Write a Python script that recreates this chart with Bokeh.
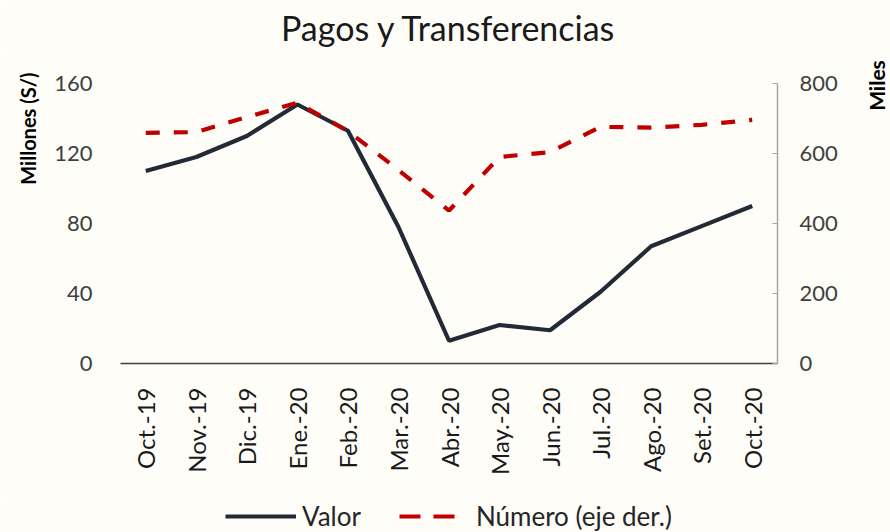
import math
from bokeh.plotting import figure
from bokeh.layouts import column, row
from bokeh.models import (Range1d, LinearAxis, FixedTicker, Legend, LegendItem,
                          FactorRange, Label, Title)
from bokeh.embed import file_html
from bokeh.resources import INLINE

# ---- data ----
months = ["Oct.-19", "Nov.-19", "Dic.-19", "Ene.-20", "Feb.-20", "Mar.-20",
          "Abr.-20", "May.-20", "Jun.-20", "Jul.-20", "Ago.-20", "Set.-20", "Oct.-20"]
valor = [110, 118, 130, 148, 133, 78, 13, 22, 19, 41, 67, 78.5, 90]
numero = [659, 661, 704, 745, 664, 553, 437, 590, 604, 676, 674, 682, 696]
left_ticks = [0, 40, 80, 120, 160]
right_ticks = [0, 200, 400, 600, 800]

BG = "#FEFDF8"
FONT = "Lato"
SOLID = "#222A35"
RED = "#C00000"
W = 862          # width of the main column; a thin strip on the right holds "Miles"
BL, BR = 120, W - 777


def strip(width, height, **kw):
    f = figure(width=width, height=height, output_backend="svg",
               toolbar_location=None, title=None, x_axis_type=None, y_axis_type=None,
               background_fill_color=BG, border_fill_color=BG,
               outline_line_color=None, **kw)
    f.xgrid.grid_line_color = None
    f.ygrid.grid_line_color = None
    return f


# ---- title strip ----
ts = strip(W, 50, x_range=Range1d(0, 1), y_range=Range1d(0, 1),
           min_border_left=BL, min_border_right=BR, min_border_top=0, min_border_bottom=0)
ts.add_layout(Label(x=328.5, y=23, x_units="screen", y_units="screen",
                    text="Pagos y Transferencias", text_align="center",
                    text_baseline="middle", text_font=FONT,
                    text_font_size="34px", text_color="#1a1a1a"))

# ---- main chart ----
p = figure(width=W, height=450, x_range=FactorRange(*months),
           y_range=Range1d(0, 160), output_backend="svg", toolbar_location=None,
           title=None, min_border_left=BL, min_border_right=BR, min_border_top=33,
           min_border_bottom=137, background_fill_color=BG,
           border_fill_color=BG, outline_line_color=None)
p.xgrid.grid_line_color = None
p.ygrid.grid_line_color = None
p.extra_y_ranges = {"right": Range1d(0, 800)}

ya = p.yaxis[0]
ya.ticker = FixedTicker(ticks=left_ticks)
ya.axis_line_color = None
ya.major_tick_line_color = None
ya.minor_tick_line_color = None
ya.major_label_text_font = FONT
ya.major_label_text_font_size = "22px"
ya.major_label_text_color = "#404040"
ya.major_label_standoff = 22

p.add_layout(Title(text="Millones (S/)", align="right", vertical_align="bottom",
                   offset=-11, standoff=24, text_font=FONT, text_font_size="20px",
                   text_font_style="bold", text_color="#000000"), "left")

ra = LinearAxis(y_range_name="right", ticker=FixedTicker(ticks=right_ticks))
ra.axis_line_color = "#A6A6A6"
ra.axis_line_width = 1.5
ra.major_tick_line_color = "#A6A6A6"
ra.major_tick_in = 5
ra.major_tick_out = 0
ra.minor_tick_line_color = None
ra.major_label_text_font = FONT
ra.major_label_text_font_size = "22px"
ra.major_label_text_color = "#404040"
ra.major_label_standoff = 22
p.add_layout(ra, "right")

xa = p.xaxis[0]
xa.axis_line_color = "#404040"
xa.axis_line_width = 1.5
xa.major_tick_line_color = None
xa.minor_tick_line_color = None
xa.major_label_orientation = math.pi / 2
xa.major_label_text_font = FONT
xa.major_label_text_font_size = "24px"
xa.major_label_text_color = "#1a1a1a"
xa.major_label_standoff = 18

p.line(months, valor, line_color=SOLID, line_width=4.2)
p.line(months, numero, y_range_name="right", line_color=RED,
       line_width=4.2, line_dash="14 14")

# ---- legend strip (series drawn out of view, only their legend keys show) ----
lg = strip(W, 32, x_range=FactorRange(*months), y_range=Range1d(1000, 1001),
           min_border_left=BL, min_border_right=BR, min_border_top=0, min_border_bottom=0)
k1 = lg.line(months, valor, line_color=SOLID, line_width=4.2)
k2 = lg.line(months, numero, line_color=RED, line_width=4.2, line_dash="21 13 21 16")
legend = Legend(items=[LegendItem(label="Valor", renderers=[k1]),
                       LegendItem(label="Número (eje der.)", renderers=[k2])],
                orientation="horizontal", location=(105, 0),
                background_fill_alpha=0, border_line_color=None,
                glyph_width=71, label_standoff=6, spacing=38, padding=0, margin=0,
                label_text_font=FONT, label_text_font_size="26px",
                label_text_color="#262626")
lg.add_layout(legend, "center")

# ---- right strip with the secondary axis title ----
rs = strip(890 - W, 532, x_range=Range1d(0, 1), y_range=Range1d(0, 1), min_border=0,
           min_border_left=0, min_border_right=0, min_border_top=0, min_border_bottom=0)
try:
    rs.frame_align = False
except Exception:
    pass
rs.add_layout(Label(x=14, y=447, x_units="screen", y_units="screen", text="Miles",
                    angle=math.pi / 2, text_align="center", text_baseline="middle",
                    text_font=FONT, text_font_size="21px", text_font_style="bold",
                    text_color="#000000"))

layout = row(column(ts, p, lg, spacing=0), rs, spacing=0)
open("out.html", "w").write(file_html(layout, INLINE))
